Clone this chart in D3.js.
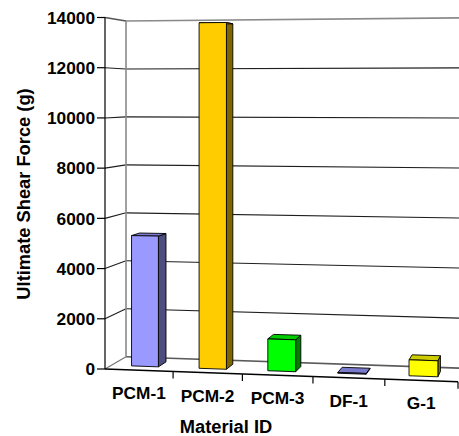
<!DOCTYPE html>
<html><head><meta charset="utf-8">
<script src="https://cdn.jsdelivr.net/npm/d3@7"></script>
<style>
html,body{margin:0;padding:0;background:#fff;}
svg{display:block;}
text{font-family:Arial,"Liberation Sans",sans-serif;font-weight:bold;fill:#000;}
</style></head><body>
<svg id="chart" width="459" height="436"></svg>
<script>
const categories = ["PCM-1", "PCM-2", "PCM-3", "DF-1", "G-1"];
const shearForce = [5250, 13800, 1260, 30, 620];
const yTicks = [0, 2000, 4000, 6000, 8000, 10000, 12000, 14000];
const yTitle = "Ultimate Shear Force (g)";
const xTitle = "Material ID";

// face colours per bar: front, top, side
const palette = [
  ["#9999FF", "#7a7acc", "#4d4d80"],
  ["#FFCC00", "#cca300", "#806600"],
  ["#00FF00", "#00cc00", "#008000"],
  ["#9999FF", "#7a7acc", "#4d4d80"],
  ["#FFFF00", "#cccc00", "#808000"]
];

const svg = d3.select("#chart");

// category axis spans 0..n units, depth spans 0 (front) .. 1 (back)
const n = categories.length;
const x = d3.scaleBand().domain(categories).range([0, n]).paddingInner(0.6).paddingOuter(0.3);
const depth = d3.scaleBand().domain(["s"]).range([0, 1]).paddingInner(0).paddingOuter(0.75);
const y = d3.scaleLinear().domain([0, 14000]).range([0, 351.5]);
const xPix = d3.scaleLinear().domain([0, n]).range([105, 105 + 66.56 * n]);

// perspective projection of (category unit, value, depth) to screen
function project(cx, val, z) {
  const w = 1 - 0.00882 * cx + 0.04707 * z;
  const u = (xPix(cx) + 26.93 * z) / w;
  const v = (369 - 0.82 * cx - y(val) + 4.49 * z) / w;
  return [u, v];
}
const poly = pts => pts.map(p => project(...p).join(",")).join(" ");
function seg(g, a, b, stroke, sw) {
  const p = project(...a), q = project(...b);
  g.append("line").attr("x1", p[0]).attr("y1", p[1]).attr("x2", q[0]).attr("y2", q[1])
    .attr("stroke", stroke).attr("stroke-width", sw);
}

const walls = svg.append("g");
const yMax = y.domain()[1];
walls.append("polygon").attr("points", poly([[0,0,1],[n,0,1],[n,yMax,1],[0,yMax,1]])).attr("fill", "#fff");
walls.append("polygon").attr("points", poly([[0,0,0],[0,0,1],[0,yMax,1],[0,yMax,0]])).attr("fill", "#fff");
walls.append("polygon").attr("points", poly([[0,0,0],[n,0,0],[n,0,1],[0,0,1]])).attr("fill", "#fff");

// gridlines on back and side walls
yTicks.forEach(t => {
  if (t === 0 || t === yMax) return;
  seg(walls, [0,t,1], [n,t,1], "#1e1e1e", 1.1);
  seg(walls, [0,t,0], [0,t,1], "#1e1e1e", 1.1);
});
seg(walls, [0,yMax,1], [n,yMax,1], "#8a8a8a", 1.6);
seg(walls, [0,yMax,0], [0,yMax,1], "#555", 1.3);
seg(walls, [0,0,1], [n,0,1], "#5a5a5a", 1.6);
seg(walls, [0,0,0], [0,0,1], "#777", 1.3);
seg(walls, [0,0,1], [0,yMax,1], "#8a8a8a", 1.6);

// columns
const bars = svg.append("g").attr("stroke", "#000").attr("stroke-width", 0.9).attr("stroke-linejoin", "round");
categories.forEach((c, i) => {
  const x0 = x(c), x1 = x0 + x.bandwidth();
  const z0 = depth("s"), z1 = z0 + depth.bandwidth();
  const v = shearForce[i];
  const g = bars.append("g");
  g.append("polygon").attr("points", poly([[x1,0,z0],[x1,0,z1],[x1,v,z1],[x1,v,z0]])).attr("fill", palette[i][2]);
  g.append("polygon").attr("points", poly([[x0,v,z0],[x1,v,z0],[x1,v,z1],[x0,v,z1]])).attr("fill", palette[i][1]);
  g.append("polygon").attr("points", poly([[x0,0,z0],[x1,0,z0],[x1,v,z0],[x0,v,z0]])).attr("fill", palette[i][0]);
});

// value axis
const axis = svg.append("g");
seg(axis, [0,0,0], [0,yMax,0], "#000", 1.2);
yTicks.forEach(t => {
  const [u, v] = project(0, t, 0);
  axis.append("line").attr("x1", u - 8).attr("x2", u).attr("y1", v).attr("y2", v)
    .attr("stroke", "#000").attr("stroke-width", 1.2);
  axis.append("text").attr("x", u - 10).attr("y", v).attr("dy", "0.36em")
    .attr("text-anchor", "end").attr("font-size", 17.3).text(d3.format("d")(t));
});

// category axis
seg(axis, [0,0,0], [n,0,0], "#000", 1.3);
d3.range(1, n + 1).forEach(k => {
  const [u, v] = project(k, 0, 0);
  axis.append("line").attr("x1", u).attr("x2", u).attr("y1", v).attr("y2", v + 7)
    .attr("stroke", "#000").attr("stroke-width", 1.2);
});
categories.forEach(c => {
  const [u, v] = project(x(c) + x.bandwidth() / 2, 0, 0);
  axis.append("text").attr("x", u).attr("y", v + 29).attr("text-anchor", "middle")
    .attr("font-size", 17.3).text(c);
});

svg.append("text").attr("x", 226).attr("y", 433).attr("text-anchor", "middle")
  .attr("font-size", 18.3).text(xTitle);
svg.append("text").attr("transform", "translate(30,194) rotate(-90)").attr("text-anchor", "middle")
  .attr("font-size", 18.3).text(yTitle);
</script>
</body></html>
